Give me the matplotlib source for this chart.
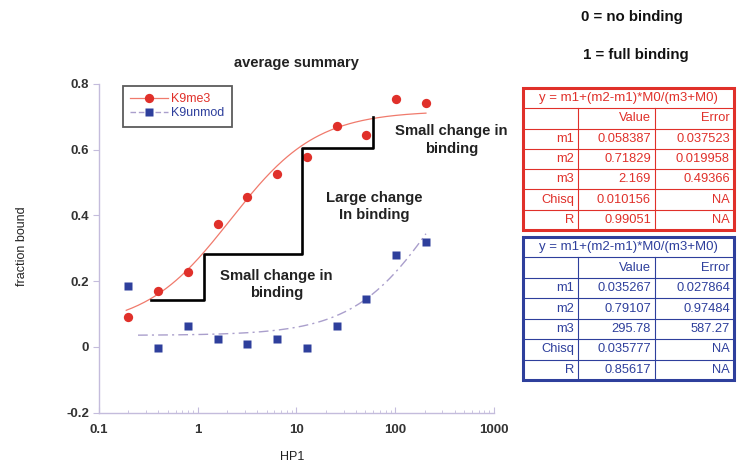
import numpy as np
import matplotlib.pyplot as plt
from matplotlib.patches import Rectangle
from matplotlib.lines import Line2D

plt.rcParams['font.family'] = ['Liberation Sans', 'DejaVu Sans']

# HP1 concentrations
hp1 = [0.2, 0.4, 0.8, 1.6, 3.2, 6.4, 12.8, 25.6, 51.2, 102.4, 204.8]
k9me3 = [0.091, 0.171, 0.227, 0.375, 0.457, 0.526, 0.579, 0.672, 0.646, 0.755, 0.741]
k9unmod = [0.186, -0.003, 0.064, 0.023, 0.010, 0.023, -0.003, 0.064, 0.145, 0.280, 0.320]

# fit parameters (from the tables)
red_fit = [0.058387, 0.71829, 2.169]
blue_fit = [0.035267, 0.79107, 295.78]

# black step line
step_x = [0.34, 1.16, 1.16, 11.4, 11.4, 60, 60]
step_y = [0.143, 0.143, 0.283, 0.283, 0.604, 0.604, 0.70]

red_rows = [["m1", "0.058387", "0.037523"],
            ["m2", "0.71829", "0.019958"],
            ["m3", "2.169", "0.49366"],
            ["Chisq", "0.010156", "NA"],
            ["R", "0.99051", "NA"]]
blue_rows = [["m1", "0.035267", "0.027864"],
             ["m2", "0.79107", "0.97484"],
             ["m3", "295.78", "587.27"],
             ["Chisq", "0.035777", "NA"],
             ["R", "0.85617", "NA"]]

RED = '#e0302a'
RED_LINE = '#f07a6c'
BLUE = '#2e3f9c'
BLUE_LINE = '#aa9fcc'
AX_COL = '#c4bcdc'
TXT = '#333333'


def fit(x, p):
    m1, m2, m3 = p
    return m1 + (m2 - m1) * x / (m3 + x)


W, H = 737, 466
fig = plt.figure(figsize=(W / 100, H / 100), dpi=100)
ax = fig.add_axes([98.7 / W, 1 - 412.7 / H, (494 - 98.7) / W, (412.7 - 84) / H])

xr = np.logspace(np.log10(0.19), np.log10(204.8), 200)
xb = np.logspace(np.log10(0.25), np.log10(204.8), 200)
ax.plot(xr, fit(xr, red_fit), color=RED_LINE, lw=0.9)
ax.plot(xb, fit(xb, blue_fit), color=BLUE_LINE, lw=1.0, dashes=(7, 3, 1.5, 3))
ax.plot(hp1, k9me3, 'o', color=RED, ms=6.7, mec='none')
ax.plot(hp1, k9unmod, 's', color=BLUE, ms=6.4, mec='none')
ax.plot(step_x, step_y, color='black', lw=1.9)

ax.set_xscale('log')
ax.set_xlim(0.1, 1000)
ax.set_ylim(-0.2, 0.8)
ax.set_yticks([-0.2, 0, 0.2, 0.4, 0.6, 0.8])
ax.set_yticklabels(['-0.2', '0', '0.2', '0.4', '0.6', '0.8'])
ax.set_xticks([0.1, 1, 10, 100, 1000])
ax.set_xticklabels(['0.1', '1', '10', '100', '1000'])
for s in ['top', 'right']:
    ax.spines[s].set_visible(False)
for s in ['left', 'bottom']:
    ax.spines[s].set_color(AX_COL)
    ax.spines[s].set_linewidth(1.0)
ax.tick_params(axis='y', direction='out', length=4, color=AX_COL,
               labelsize=9.5, labelcolor=TXT, pad=3)
ax.tick_params(axis='x', which='major', direction='in', length=4, color=AX_COL,
               labelsize=9.5, labelcolor=TXT, pad=8)
ax.tick_params(axis='x', which='minor', direction='in', length=2.5, color=AX_COL)
for lab in ax.get_xticklabels() + ax.get_yticklabels():
    lab.set_fontweight('bold')

ax.set_title('average summary', fontsize=10.5, fontweight='bold', color='#222222', pad=12)

kw = dict(fontsize=10.7, fontweight='bold', color='#222222', ha='center', va='center',
          linespacing=1.3)
ax.text(6.3, 0.19, 'Small change in\nbinding', **kw)
ax.text(61, 0.427, 'Large change\nIn binding', **kw)
ax.text(370, 0.63, 'Small change in\nbinding', **kw)

handles = [Line2D([], [], color=RED_LINE, lw=0.9, marker='o', mfc=RED, mec='none', ms=6.7),
           Line2D([], [], color=BLUE_LINE, lw=1.0, dashes=(4, 2), marker='s', mfc=BLUE,
                  mec='none', ms=6.4)]
leg = ax.legend(handles, ['K9me3', 'K9unmod'], loc='upper left',
                bbox_to_anchor=((122.7 - 98.7) / (494 - 98.7), 1 - (86 - 84) / (412.7 - 84)),
                fontsize=9, frameon=True, fancybox=False, borderpad=0.6,
                handlelength=3.0, handletextpad=0.3, labelspacing=0.15, borderaxespad=0)
leg.get_frame().set_edgecolor('#333333')
leg.get_frame().set_linewidth(1.3)
for t, c in zip(leg.get_texts(), [RED, BLUE]):
    t.set_color(c)

fig.text(22 / W, 1 - 246 / H, 'fraction bound', rotation=90, fontsize=9,
         color='#222222', ha='center', va='center')
fig.text(292 / W, 1 - 457 / H, 'HP1', fontsize=9, color='#222222', ha='center', va='center')
fig.text(632 / W, 1 - 17 / H, '0 = no binding', fontsize=10.8, fontweight='bold',
         color='#111111', ha='center', va='center')
fig.text(636 / W, 1 - 55 / H, '1 = full binding', fontsize=10.8, fontweight='bold',
         color='#111111', ha='center', va='center')


def draw_table(top, bottom, col, rows):
    left, right = 523, 734
    c1, c2 = 578, 655
    nrow = len(rows) + 2
    rh = (bottom - top) / nrow
    tax = fig.add_axes([0, 0, 1, 1], facecolor='none')
    tax.set_xlim(0, W)
    tax.set_ylim(H, 0)
    tax.axis('off')
    for i in range(1, nrow):
        y = top + i * rh
        tax.plot([left, right], [y, y], color=col, lw=0.8)
    tax.plot([c1, c1], [top + rh, bottom], color=col, lw=0.8)
    tax.plot([c2, c2], [top + rh, bottom], color=col, lw=0.8)
    tax.add_patch(Rectangle((left, top), right - left, bottom - top, fill=False,
                            edgecolor=col, lw=2.2))
    tkw = dict(fontsize=9.3, color=col, va='center', ha='right')
    tax.text((left + right) / 2, top + rh / 2, 'y = m1+(m2-m1)*M0/(m3+M0)',
             fontsize=9.5, color=col, va='center', ha='center')
    tax.text(c2 - 4, top + 1.5 * rh, 'Value', **tkw)
    tax.text(right - 4, top + 1.5 * rh, 'Error', **tkw)
    for i, r in enumerate(rows):
        y = top + (i + 2.5) * rh
        tax.text(c1 - 4, y, r[0], **tkw)
        tax.text(c2 - 4, y, r[1], **tkw)
        tax.text(right - 4, y, r[2], **tkw)


draw_table(88, 230, RED, red_rows)
draw_table(237, 380, BLUE, blue_rows)

fig.savefig('out.png', dpi=100)
